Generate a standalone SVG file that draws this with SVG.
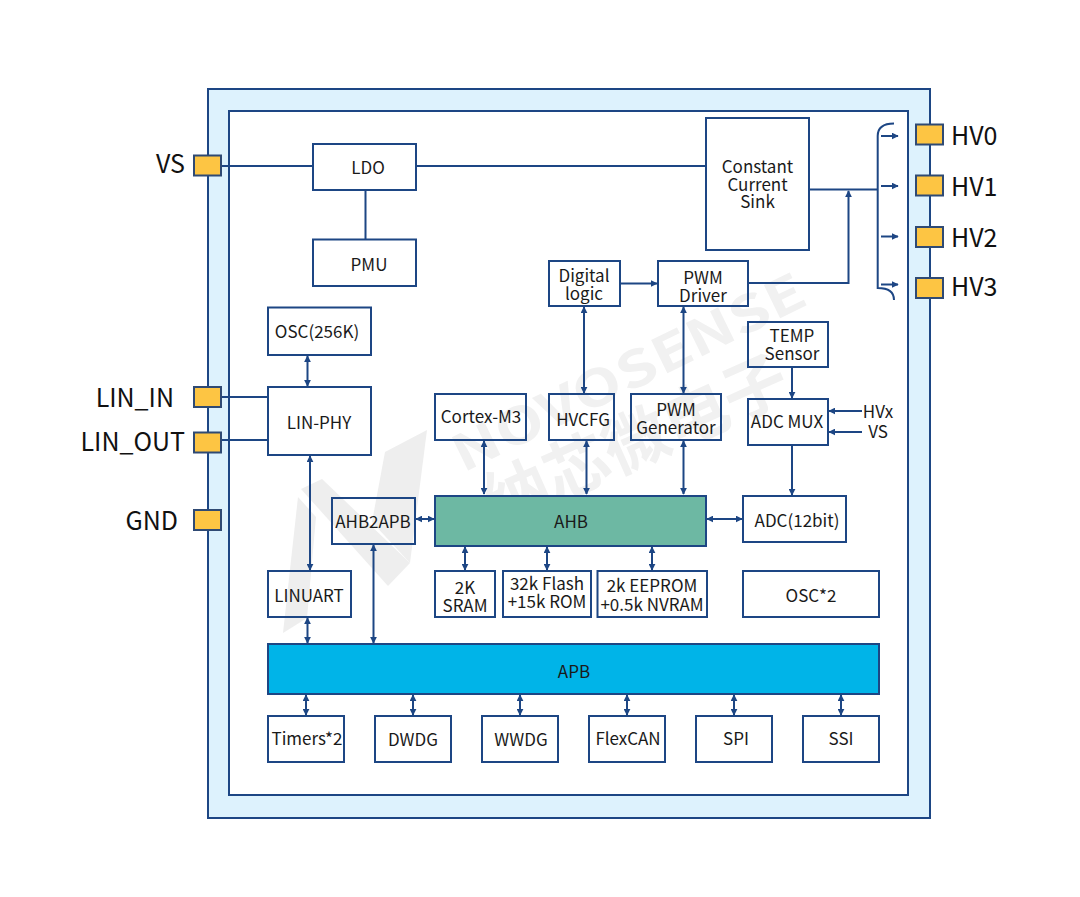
<svg xmlns="http://www.w3.org/2000/svg" width="1080" height="897" viewBox="0 0 1080 897">
<style>
text{font-family:"Noto Sans CJK SC","Noto Sans",sans-serif;font-size:17px;fill:#1a1a1a;text-anchor:middle}
g:not(#watermark) text{transform:translateY(.8px)}
.pin{font-size:25px;fill:#111}
.pl{text-anchor:end}
.ps{text-anchor:start}
.b{fill:none;stroke:#1d4684;stroke-width:2}
.pad{fill:#fdc543;stroke:#2f4a74;stroke-width:2}
.w{fill:none;stroke:#1d4684;stroke-width:2}
.a{fill:none;stroke:#1d4684;stroke-width:2;marker-end:url(#ah)}
.d{fill:none;stroke:#1d4684;stroke-width:2;marker-start:url(#ah);marker-end:url(#ah)}
.wm{fill:#eeeeee;stroke:none}
.wt{fill:#f1f1f1;font-weight:700;text-anchor:start}
</style>
<defs>
<marker id="ah" viewBox="0 0 10 10" refX="9" refY="5" markerWidth="7" markerHeight="7" markerUnits="userSpaceOnUse" orient="auto-start-reverse"><path d="M0 0L10 5L0 10Z" fill="#1d4684"/></marker>
</defs>
<rect width="1080" height="897" fill="#fff"/>
<g id="package">
<rect x="208" y="89" width="722" height="729" fill="#ddf2fd" stroke="#1d4684" stroke-width="2"/>
<rect x="229" y="111" width="679" height="684" fill="#fff" stroke="#1d4684" stroke-width="2"/>
</g>
<g id="watermark">
<path class="wm" d="M301 489L322 479L410 563L388 586Z"/>
<path class="wm" d="M298 497L283 633L307 618L316 517Z"/>
<path class="wm" d="M385 452L427 430L410 563L372 522Z"/>
<text class="wt" transform="translate(463 473) rotate(-26)" style="font-size:50px" textLength="386" lengthAdjust="spacingAndGlyphs">NOVOSENSE</text>
<text class="wt" transform="translate(497 528) rotate(-24)" style="font-size:65px">纳芯微电子</text>
</g>
<g id="connectors">
<path class="w" d="M221 166H313M416 166H706M365.500 190V239M221 397H268M221 440H268"/>
<path class="w" d="M809 189.500H877.700"/>
<path class="w" d="M894 123.500C882 123.500 877.700 128 877.700 136V288C888 288 894 292 894 300"/>
<path class="a" d="M881 136H898"/>
<path class="a" d="M881 186H898"/>
<path class="a" d="M881 236.500H898"/>
<path class="a" d="M881 284.500H898"/>
<path class="a" d="M748 283H848.500V191"/>
<path class="a" d="M620 283.500H657"/>
<path class="d" d="M584 307V393"/>
<path class="d" d="M683.500 307V393"/>
<path class="d" d="M307.500 356V386"/>
<path class="d" d="M310 456V570"/>
<path class="a" d="M792 367V398"/>
<path class="a" d="M862 411H829"/>
<path class="a" d="M862 432H829"/>
<path class="a" d="M792 445V495"/>
<path class="d" d="M484 441V494"/>
<path class="d" d="M586.500 441V494"/>
<path class="d" d="M683.500 441V494"/>
<path class="d" d="M416 519H434"/>
<path class="d" d="M707 519H742"/>
<path class="d" d="M465 547V570"/>
<path class="d" d="M547 547V570"/>
<path class="d" d="M652 547V570"/>
<path class="d" d="M307.500 618V643"/>
<path class="d" d="M373.500 545V643"/>
<path class="d" d="M306 695V715"/>
<path class="d" d="M413 695V715"/>
<path class="d" d="M520 695V715"/>
<path class="d" d="M627 695V715"/>
<path class="d" d="M734 695V715"/>
<path class="d" d="M841 695V715"/>
</g>
<g id="pin-VS"><rect class="pad" x="194" y="155.500" width="27" height="20"/><text class="pin pl" x="185" y="172">VS</text></g>
<g id="pin-LIN_IN"><rect class="pad" x="194" y="387" width="27" height="20"/><text class="pin pl" x="174" y="406">LIN_IN</text></g>
<g id="pin-LIN_OUT"><rect class="pad" x="194" y="432.500" width="27" height="20"/><text class="pin pl" x="185" y="450">LIN_OUT</text></g>
<g id="pin-GND"><rect class="pad" x="194" y="510" width="27" height="20"/><text class="pin pl" x="178" y="529">GND</text></g>
<g id="pin-HV0"><rect class="pad" x="916" y="124.500" width="27" height="20"/><text class="pin ps" x="951" y="144">HV0</text></g>
<g id="pin-HV1"><rect class="pad" x="916" y="175.500" width="27" height="20"/><text class="pin ps" x="951" y="195">HV1</text></g>
<g id="pin-HV2"><rect class="pad" x="916" y="227" width="27" height="20"/><text class="pin ps" x="951" y="246">HV2</text></g>
<g id="pin-HV3"><rect class="pad" x="916" y="278" width="27" height="20"/><text class="pin ps" x="951" y="295">HV3</text></g>
<g id="LDO"><rect class="b" x="313" y="144" width="103" height="46"/><text x="368" y="173">LDO</text></g>
<g id="PMU"><rect class="b" x="313" y="239.500" width="103" height="46.500"/><text x="369" y="270">PMU</text></g>
<g id="CCS"><rect class="b" x="706" y="118" width="103" height="132"/><text x="757.500" y="172">Constant</text><text x="757.500" y="190">Current</text><text x="757.500" y="207">Sink</text></g>
<g id="DigitalLogic"><rect class="b" x="549" y="261" width="71" height="45"/><text x="584" y="281">Digital</text><text x="584" y="299">logic</text></g>
<g id="PWMDriver"><rect class="b" x="658" y="261" width="90" height="45"/><text x="703" y="283">PWM</text><text x="703" y="301">Driver</text></g>
<g id="OSC256"><rect class="b" x="268" y="307.500" width="103" height="47.500"/><text x="317" y="337">OSC(256K)</text></g>
<g id="LINPHY"><rect class="b" x="268" y="387" width="103" height="68"/><text x="319" y="428">LIN-PHY</text></g>
<g id="TEMP"><rect class="b" x="748" y="322" width="80" height="45"/><text x="792" y="341">TEMP</text><text x="792" y="359">Sensor</text></g>
<g id="Cortex"><rect class="b" x="435" y="394" width="91" height="46"/><text x="481" y="422">Cortex-M3</text></g>
<g id="HVCFG"><rect class="b" x="549" y="394" width="65" height="46"/><text x="583" y="425">HVCFG</text></g>
<g id="PWMGen"><rect class="b" x="631" y="394" width="90" height="46"/><text x="676" y="415">PWM</text><text x="676" y="433">Generator</text></g>
<g id="ADCMUX"><rect class="b" x="748" y="399" width="80" height="46"/><text x="787" y="427">ADC MUX</text></g>
<g id="HVx"><text x="878" y="417">HVx</text></g>
<g id="VSin"><text x="878" y="437">VS</text></g>
<g id="AHB"><rect x="435" y="496" width="271" height="50" fill="#6db8a3" stroke="#1d4684" stroke-width="2"/><text x="571" y="527">AHB</text></g>
<g id="AHB2APB"><rect class="b" x="332" y="498" width="83" height="46"/><text x="373" y="527">AHB2APB</text></g>
<g id="ADC12"><rect class="b" x="743" y="496" width="103" height="46"/><text x="797" y="526">ADC(12bit)</text></g>
<g id="SRAM"><rect class="b" x="435" y="571" width="60" height="46"/><text x="465" y="593">2K</text><text x="465" y="611">SRAM</text></g>
<g id="Flash"><rect class="b" x="503" y="571" width="88" height="46"/><text x="547" y="589">32k Flash</text><text x="547" y="607">+15k ROM</text></g>
<g id="EEPROM"><rect class="b" x="597.500" y="571" width="109.500" height="46"/><text x="652" y="591">2k EEPROM</text><text x="652" y="610">+0.5k NVRAM</text></g>
<g id="OSC2"><rect class="b" x="743" y="571" width="136" height="46"/><text x="811" y="601">OSC*2</text></g>
<g id="LINUART"><rect class="b" x="268" y="571" width="83" height="46"/><text x="309" y="601">LINUART</text></g>
<g id="APB"><rect x="268" y="644" width="611" height="50" fill="#00b4e8" stroke="#1d4684" stroke-width="2"/><text x="574" y="677">APB</text></g>
<g id="Timers"><rect class="b" x="268" y="716" width="76" height="46"/><text x="307" y="744">Timers*2</text></g>
<g id="DWDG"><rect class="b" x="375" y="716" width="76" height="46"/><text x="413" y="745">DWDG</text></g>
<g id="WWDG"><rect class="b" x="482" y="716" width="76" height="46"/><text x="521" y="745">WWDG</text></g>
<g id="FlexCAN"><rect class="b" x="589" y="716" width="76" height="46"/><text x="628" y="744">FlexCAN</text></g>
<g id="SPI"><rect class="b" x="696" y="716" width="76" height="46"/><text x="736" y="744">SPI</text></g>
<g id="SSI"><rect class="b" x="803" y="716" width="76" height="46"/><text x="841" y="744">SSI</text></g>
</svg>
